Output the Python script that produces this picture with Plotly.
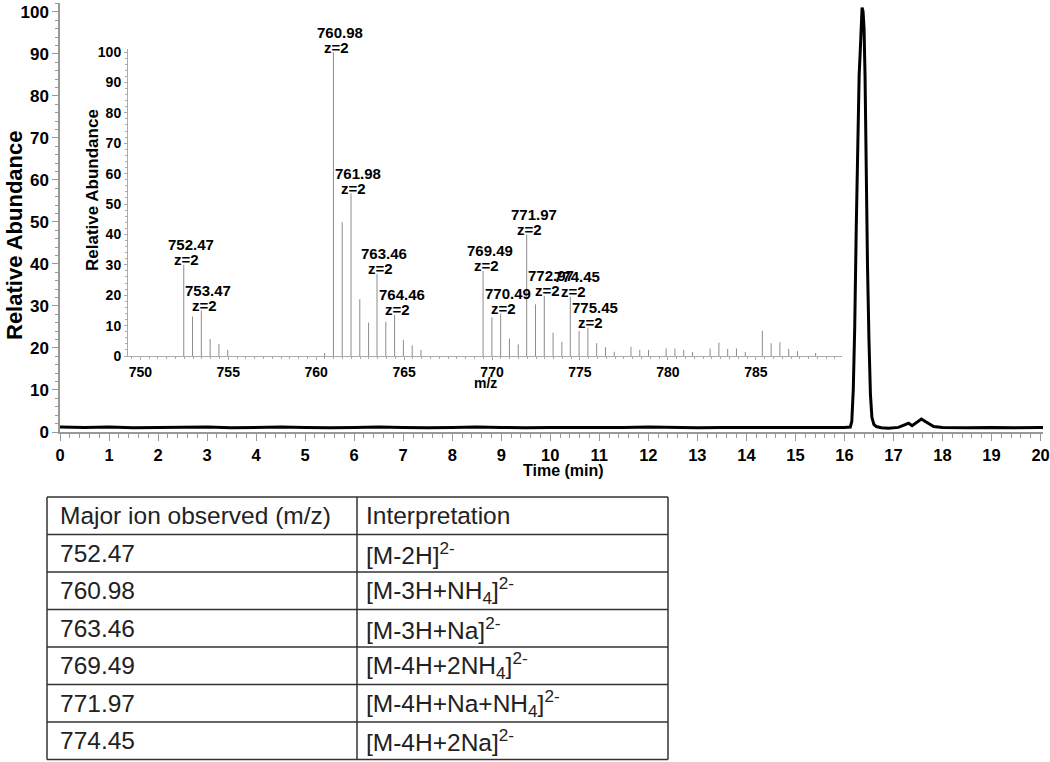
import plotly.graph_objects as go

# chromatogram (time in min, relative abundance)
time_min = [0.0, 0.5, 1.0, 1.5, 2.0, 2.5, 3.0, 3.5, 4.0, 4.5, 5.0, 5.5, 6.0, 6.5, 7.0, 7.5,
            8.0, 8.5, 9.0, 9.5, 10.0, 10.5, 11.0, 11.5, 12.0, 12.5, 13.0, 13.5, 14.0, 14.5,
            15.0, 15.5, 16.0, 16.12, 16.15, 16.18, 16.21, 16.24, 16.27, 16.30, 16.32, 16.345,
            16.36, 16.38, 16.40, 16.42, 16.44, 16.47, 16.50, 16.53, 16.56, 16.60, 16.65, 16.75,
            16.9, 17.1, 17.25, 17.31, 17.38, 17.5, 17.57, 17.65, 17.72, 17.82, 18.0, 18.5, 19.0,
            19.5, 20.0, 20.05]
intensity = [1.2, 1.1, 1.2, 1.0, 1.1, 1.1, 1.2, 1.0, 1.1, 1.2, 1.1, 1.0, 1.1, 1.2, 1.1, 1.0,
             1.1, 1.2, 1.1, 1.0, 1.1, 1.1, 1.0, 1.1, 1.2, 1.1, 1.0, 1.1, 1.1, 1.0,
             1.1, 1.0, 1.1, 1.2, 2.5, 10, 25, 48, 70, 85, 90, 98,
             101, 100, 96, 85, 65, 40, 22, 9, 3.5, 1.8, 1.3, 1.0,
             0.9, 1.1, 1.8, 2.1, 1.5, 2.6, 3.1, 2.5, 2.0, 1.3, 1.1, 1.0, 1.1,
             1.0, 1.1, 1.1]

# inset mass spectrum
mz = [752.47, 752.97, 753.47, 753.97, 754.47, 754.97, 760.48, 760.98, 761.48, 761.98,
      762.48, 762.98, 763.46, 763.96, 764.46, 764.96, 765.46, 765.96, 769.49, 769.99,
      770.49, 770.99, 771.49, 771.97, 772.47, 772.97, 773.47, 773.97, 774.45, 774.95,
      775.45, 775.95, 776.45, 776.95, 777.9, 778.4, 778.9, 779.9, 780.4, 780.9, 781.4,
      782.4, 782.9, 783.4, 783.9, 784.4, 785.37, 785.87, 786.37, 786.87, 787.37, 788.4]
abund = [30, 13, 15, 5.6, 4, 2, 1, 100, 44, 53.5,
         18.7, 11, 27, 11.3, 13.5, 5.3, 3.5, 2, 28, 12.7,
         14, 5.7, 3.8, 40, 17, 19.8, 7.7, 4.7, 19.5, 8.2,
         9.3, 4.2, 2.9, 1.4, 3, 2, 2, 2.5, 2.5, 2, 1.3,
         2.5, 4.4, 2.3, 2.5, 1.3, 8.3, 4.2, 4.5, 2.3, 1.6, 1]
labelled = [752.47, 753.47, 760.98, 761.98, 763.46, 764.46,
            769.49, 770.49, 771.97, 772.97, 774.45, 775.45]

# table
col_headers = ["Major ion observed (m/z)", "Interpretation"]
ions = ["752.47", "760.98", "763.46", "769.49", "771.97", "774.45"]
interp = ["[M-2H]<sup>2-</sup>", "[M-3H+NH<sub>4</sub>]<sup>2-</sup>", "[M-3H+Na]<sup>2-</sup>",
          "[M-4H+2NH<sub>4</sub>]<sup>2-</sup>", "[M-4H+Na+NH<sub>4</sub>]<sup>2-</sup>",
          "[M-4H+2Na]<sup>2-</sup>"]

FONT = "Arial, Liberation Sans, sans-serif"
W, H = 1050, 762

fig = go.Figure()

fig.add_trace(go.Scatter(x=time_min, y=intensity, mode="lines",
                         line=dict(color="black", width=3), xaxis="x", yaxis="y"))

# stick spectrum
sx, sy = [], []
for m, a in zip(mz, abund):
    sx += [m, m, None]
    sy += [0, a, None]
fig.add_trace(go.Scatter(x=sx, y=sy, mode="lines", line=dict(color="#8c8c8c", width=1),
                         xaxis="x2", yaxis="y2"))

peak_lookup = dict(zip(mz, abund))
ann = []
for m in labelled:
    a = peak_lookup[m]
    ann.append(dict(x=m, y=a, xref="x2", yref="y2", text="<b>%.2f</b>" % m, showarrow=False,
                    xanchor="center", yanchor="middle", yshift=20, xshift=7,
                    font=dict(family=FONT, size=15, color="black")))
    ann.append(dict(x=m, y=a, xref="x2", yref="y2", text="<b>z=2</b>", showarrow=False,
                    xanchor="center", yanchor="middle", yshift=5, xshift=3,
                    font=dict(family=FONT, size=15, color="black")))

ann += [
    dict(x=15 / W, y=1 - 236 / H, xref="paper", yref="paper", text="<b>Relative Abundance</b>",
         textangle=-90, showarrow=False, xanchor="center", yanchor="middle",
         font=dict(family=FONT, size=22, color="black")),
    dict(x=563 / W, y=1 - 470 / H, xref="paper", yref="paper", text="<b>Time (min)</b>",
         showarrow=False, xanchor="center", yanchor="middle",
         font=dict(family=FONT, size=16, color="black")),
    dict(x=92 / W, y=1 - 190 / H, xref="paper", yref="paper", text="<b>Relative Abundance</b>",
         textangle=-90, showarrow=False, xanchor="center", yanchor="middle",
         font=dict(family=FONT, size=17, color="black")),
    dict(x=769.6, y=1 - 383 / H, xref="x2", yref="paper", text="<b>m/z</b>",
         showarrow=False, xanchor="center", yanchor="middle",
         font=dict(family=FONT, size=14, color="black")),
]

# table grid + text
tab_left, tab_mid, tab_right, tab_top, row_h = 47, 357, 668, 497, 37.5
rows = [col_headers] + [[i, t] for i, t in zip(ions, interp)]
shapes = []
for r in range(len(rows) + 1):
    yy = 1 - (tab_top + r * row_h) / H
    shapes.append(dict(type="line", xref="paper", yref="paper", x0=tab_left / W, x1=tab_right / W,
                       y0=yy, y1=yy, line=dict(color="#333", width=1.5)))
for xx in (tab_left, tab_mid, tab_right):
    shapes.append(dict(type="line", xref="paper", yref="paper", x0=xx / W, x1=xx / W,
                       y0=1 - tab_top / H, y1=1 - (tab_top + len(rows) * row_h) / H,
                       line=dict(color="#333", width=1.5)))
for r, row in enumerate(rows):
    yc = 1 - (tab_top + (r + 0.5) * row_h) / H
    for xx, txt in zip((tab_left + 11, tab_mid + 7), row):
        ann.append(dict(x=xx / W, y=yc, xref="paper", yref="paper", text=txt, showarrow=False,
                        xanchor="left", yanchor="middle",
                        font=dict(family=FONT, size=24.5, color="#222")))

axis_common = dict(showgrid=False, zeroline=False, showline=True, ticks="outside",
                   automargin=False, ticklabeloverflow="allow")

fig.update_layout(
    width=W, height=H, margin=dict(l=0, r=0, t=0, b=0, autoexpand=False),
    paper_bgcolor="white", plot_bgcolor="white", showlegend=False,
    font=dict(family=FONT, color="black"),
    xaxis=dict(domain=[60 / W, 1043 / W], range=[0, 20.05], tick0=0, dtick=1, anchor="y",
               linecolor="#999", linewidth=1.5, tickcolor="#999", ticklen=7,
               tickfont=dict(size=16.5, weight="bold"),
               minor=dict(dtick=0.2, ticks="outside", ticklen=4, tickcolor="#999"), **axis_common),
    yaxis=dict(domain=[1 - 432 / H, 1 - 3 / H], range=[0, 102.1], tick0=0, dtick=10, anchor="x",
               linecolor="#999", linewidth=1.5, tickcolor="#999", ticklen=6,
               tickfont=dict(size=17, weight="bold"),
               minor=dict(dtick=2, ticks="outside", ticklen=3, tickcolor="#999"), **axis_common),
    xaxis2=dict(domain=[128 / W, 842 / W], range=[749.3, 789.9], tick0=750, dtick=5, anchor="y2",
                linecolor="#aaa", linewidth=1, tickcolor="#aaa", ticklen=3,
                tickfont=dict(size=14, weight="bold"),
                minor=dict(dtick=0.5, ticks="outside", ticklen=2, tickcolor="#aaa"), **axis_common),
    yaxis2=dict(domain=[1 - 356 / H, 1 - 49 / H], range=[0, 101], tick0=0, dtick=10, anchor="x2",
                linecolor="#aaa", linewidth=1, tickcolor="#aaa", ticklen=3,
                tickfont=dict(size=14, weight="bold"),
                minor=dict(dtick=2, ticks="outside", ticklen=2, tickcolor="#aaa"), **axis_common),
    annotations=ann,
    shapes=shapes,
)

# drop the browser's default 8px body margin so the figure sits at the page corner
fig.write_html("out.html", config={"displayModeBar": False},
               post_script="document.body.style.margin='0';")
